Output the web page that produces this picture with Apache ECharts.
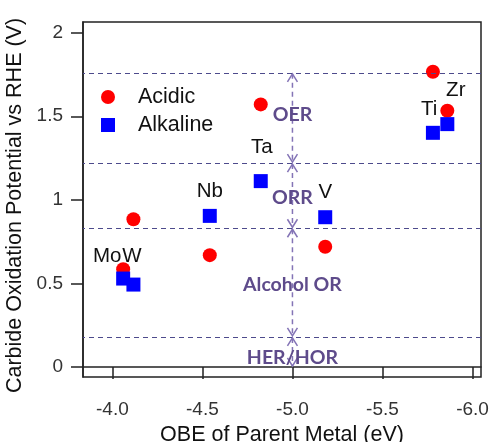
<!DOCTYPE html>
<html>
<head>
<meta charset="utf-8">
<script src="https://cdn.jsdelivr.net/npm/echarts@6/dist/echarts.min.js"></script>
<style>
html,body{margin:0;padding:0;background:#fff;}
#chart{width:489px;height:442px;}
</style>
</head>
<body>
<div id="chart"></div>
<script>
// ---- data ----
const metals = ['Mo', 'W', 'Nb', 'Ta', 'V', 'Ti', 'Zr'];
const obe = [-4.06, -4.117, -4.541, -4.824, -5.182, -5.78, -5.86];
const acidic = [0.585, 0.884, 0.669, 1.571, 0.719, 1.766, 1.533];
const alkaline = [0.529, 0.493, 0.904, 1.112, 0.896, 1.401, 1.453];
// label anchors for metal names (data units)
const metalLabelX = [-3.971, -4.108, -4.541, -4.83, -5.182, -5.759, -5.907];
const metalLabelY = [0.663, 0.663, 1.048, 1.317, 1.042, 1.541, 1.653];
// reaction bands
const bandBounds = [1.76, 1.22, 0.83, 0.18, 0.0];
const bandNames = ['OER', 'ORR', 'Alcohol OR', 'HER/HOR'];
const bandLabelY = [1.507, 1.01, 0.493, 0.058];
const arrowX = -5.0;
// axes
const xTicks = [-4.0, -4.5, -5.0, -5.5, -6.0];
const yTicks = [0, 0.5, 1, 1.5, 2];

const FONT = 'Liberation Sans, Arial, sans-serif';

const segData = [];
for (let i = 0; i < bandBounds.length - 1; i++) segData.push([arrowX, bandBounds[i], bandBounds[i + 1]]);

const chart = echarts.init(document.getElementById('chart'));
chart.setOption({
  animation: false,
  backgroundColor: '#fff',
  grid: { left: 83, top: 22, right: 8, bottom: 65, show: true, borderColor: '#222', borderWidth: 1.5, containLabel: false, outerBoundsMode: 'none' },
  legend: {
    data: [{ name: 'Acidic', icon: 'circle' }, { name: 'Alkaline', icon: 'rect' }],
    orient: 'vertical', left: 96, top: 81,
    itemWidth: 14, itemHeight: 14, itemGap: 6,
    formatter: '{t|{name}}',
    textStyle: { fontSize: 21.5, fontFamily: FONT, color: '#111',
      rich: { t: { fontSize: 21.5, fontFamily: FONT, color: '#111', padding: [0, 0, 0, 18] } } }
  },
  xAxis: {
    type: 'value', inverse: true, min: -6.047, max: -3.837,
    name: 'OBE of Parent Metal (eV)', nameLocation: 'middle', nameGap: 39,
    nameTextStyle: { fontSize: 21.5, fontFamily: FONT, color: '#111' },
    axisLine: { show: true, lineStyle: { color: '#222', width: 1.5 } },
    axisTick: { show: true, inside: false, length: 12, customValues: xTicks, lineStyle: { color: '#222', width: 1.5 } },
    axisLabel: { customValues: xTicks, margin: 23, fontSize: 19, fontFamily: FONT, color: '#333', formatter: v => v.toFixed(1) },
    splitLine: { show: false }
  },
  yAxis: {
    type: 'value', min: -0.06, max: 2.064,
    name: 'Carbide Oxidation Potential vs RHE (V)', nameLocation: 'middle', nameGap: 52,
    nameTextStyle: { fontSize: 21.5, fontFamily: FONT, color: '#111', padding: [0, 12, 0, 0] },
    axisLine: { show: true, lineStyle: { color: '#222', width: 1.5 } },
    axisTick: { show: true, inside: false, length: 12, customValues: yTicks, lineStyle: { color: '#222', width: 1.5 } },
    axisLabel: { customValues: yTicks, margin: 20, fontSize: 19, fontFamily: FONT, color: '#333', formatter: v => String(v) },
    splitLine: { show: false }
  },
  series: [
    {
      type: 'line', name: 'refLines', data: [], silent: true,
      markLine: {
        silent: true, symbol: ['none', 'none'], label: { show: false },
        lineStyle: { type: [5, 4], color: '#4d4a8c', width: 1.2 },
        data: bandBounds.slice(0, 4).map(v => ({ yAxis: v }))
      }
    },
    {
      type: 'custom', name: 'arrows', silent: true, data: segData,
      renderItem: function (params, api) {
        const p1 = api.coord([api.value(0), api.value(1)]);
        const p2 = api.coord([api.value(0), api.value(2)]);
        const x = p1[0];
        const col = '#8474b6';
        const st = { stroke: col, lineWidth: 1.5, fill: null };
        const y1 = p1[1] + 1, y2 = p2[1] - 1;
        return {
          type: 'group',
          children: [
            { type: 'line', shape: { x1: x, y1: y1, x2: x, y2: y2 }, style: { stroke: col, lineWidth: 1.5, lineDash: [5, 4] } },
            { type: 'polyline', shape: { points: [[x - 5, y1 + 8], [x, y1], [x + 5, y1 + 8]] }, style: st },
            { type: 'polyline', shape: { points: [[x - 5, y2 - 8], [x, y2], [x + 5, y2 - 8]] }, style: st }
          ]
        };
      }
    },
    {
      type: 'custom', name: 'bandLabels', silent: true,
      data: bandNames.map((n, i) => [arrowX, bandLabelY[i], i]),
      renderItem: function (params, api) {
        const p = api.coord([api.value(0), api.value(1)]);
        return {
          type: 'text', x: p[0], y: p[1],
          style: { text: bandNames[api.value(2)], fontSize: 19.5, fontWeight: 'bold', fontFamily: 'Lato, Open Sans, sans-serif', fill: '#5e4b8b', align: 'center', verticalAlign: 'middle' }
        };
      }
    },
    {
      type: 'scatter', name: 'Acidic', symbol: 'circle', symbolSize: 14,
      itemStyle: { color: '#ff0000', opacity: 1 },
      data: obe.map((x, i) => [x, acidic[i]])
    },
    {
      type: 'scatter', name: 'Alkaline', symbol: 'rect', symbolSize: 14,
      itemStyle: { color: '#0000ff', opacity: 1 },
      data: obe.map((x, i) => [x, alkaline[i]])
    },
    {
      type: 'custom', name: 'metalLabels', silent: true,
      data: metals.map((m, i) => [metalLabelX[i], metalLabelY[i], i]),
      renderItem: function (params, api) {
        const p = api.coord([api.value(0), api.value(1)]);
        return {
          type: 'text', x: p[0], y: p[1],
          style: { text: metals[api.value(2)], fontSize: 20.5, fontFamily: FONT, fill: '#111', align: 'center', verticalAlign: 'middle' }
        };
      }
    }
  ]
});
</script>
</body>
</html>
